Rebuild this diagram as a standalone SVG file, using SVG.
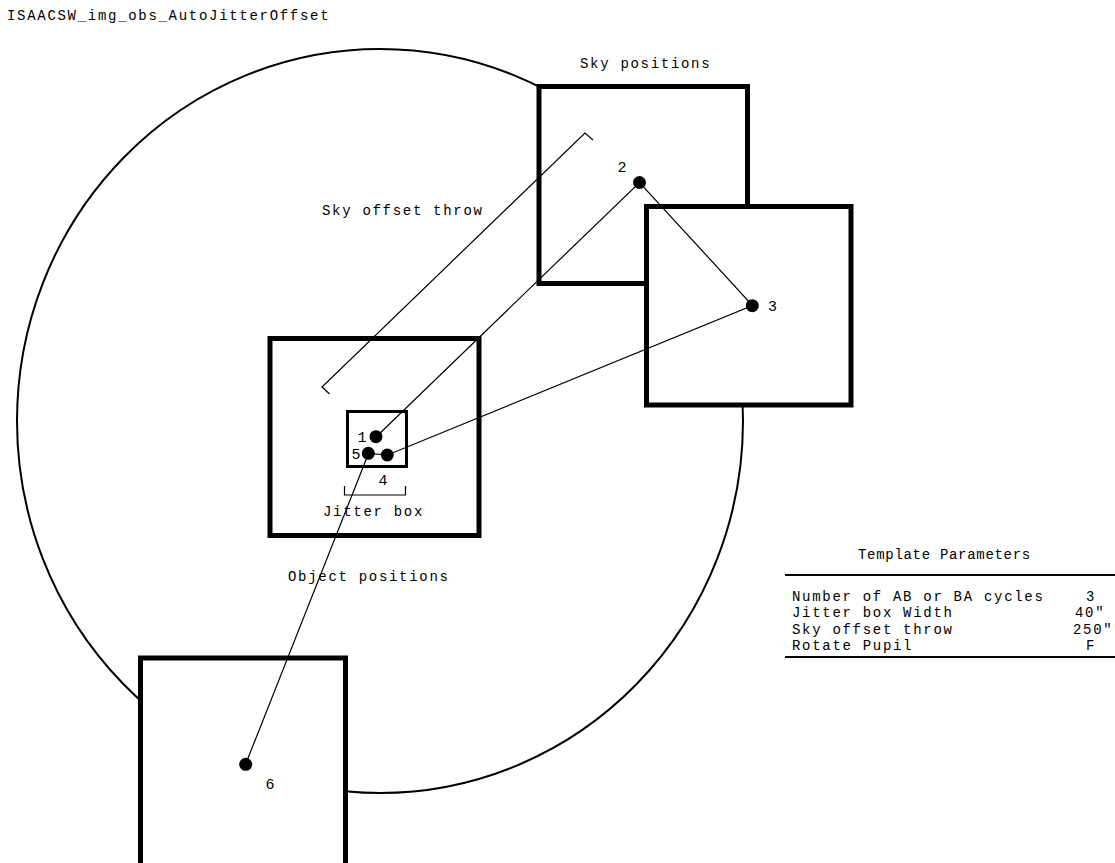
<svg xmlns="http://www.w3.org/2000/svg" width="1115" height="863" viewBox="0 0 1115 863">
<style>
text{font-family:"Liberation Mono","DejaVu Sans Mono",monospace;font-size:14px;letter-spacing:1.7px;fill:#000}
.box{fill:#fff;stroke:#000;stroke-width:5}
.jbox{fill:#fff;stroke:#000;stroke-width:3}
.thin{fill:none;stroke:#000;stroke-width:1.2}
.dot{fill:#000}
.num{font-size:15px;letter-spacing:0}
.mid{text-anchor:middle}
.ttl{letter-spacing:0.7px}
</style>
<rect width="1115" height="863" fill="#fff"/>
<text x="7" y="20">ISAACSW_img_obs_AutoJitterOffset</text>
<g id="field">
<ellipse cx="380" cy="421" rx="363" ry="372" fill="none" stroke="#000" stroke-width="2"/>
</g>
<g id="sky1"><rect class="box" x="539" y="86.5" width="208.5" height="197"/></g>
<g id="sky2"><rect class="box" x="646.5" y="206.5" width="204.5" height="198.5"/></g>
<g id="object"><rect class="box" x="270" y="338.5" width="209" height="197"/></g>
<g id="jitter"><rect class="jbox" x="347.5" y="411.5" width="59" height="55"/></g>
<g id="sky3"><rect class="box" x="140.5" y="658" width="205" height="210"/></g>
<g id="connectors">
<polyline class="thin" points="376,437 639.5,182.5 752.5,305.5 387.5,455 368.5,453.5 245.5,764.5"/>
<polyline class="thin" points="329.5,394 322,387 585,133 593,140"/>
<polyline class="thin" points="344.5,486 344.5,495 405.5,495 405.5,486"/>
</g>
<g id="points">
<circle class="dot" cx="376" cy="436.7" r="6.5"/>
<circle class="dot" cx="639.5" cy="182.5" r="6.5"/>
<circle class="dot" cx="752.3" cy="305.7" r="6.5"/>
<circle class="dot" cx="387.3" cy="455" r="6.5"/>
<circle class="dot" cx="368.3" cy="453.3" r="6.5"/>
<circle class="dot" cx="245.7" cy="764.3" r="6.5"/>
<text class="mid num" x="362" y="442">1</text>
<text class="mid num" x="622" y="172">2</text>
<text class="mid num" x="772.5" y="311">3</text>
<text class="mid num" x="383" y="485">4</text>
<text class="mid num" x="356" y="459">5</text>
<text class="mid num" x="270" y="789">6</text>
</g>
<g id="labels">
<text x="580" y="68">Sky positions</text>
<text x="322" y="215">Sky offset throw</text>
<text x="323" y="516">Jitter box</text>
<text x="288" y="581">Object positions</text>
</g>
<g id="table">
<text class="ttl" x="858" y="559">Template Parameters</text>
<line x1="785" y1="575" x2="1115" y2="575" stroke="#000" stroke-width="2"/>
<text x="792" y="601">Number of AB or BA cycles</text>
<text x="1086" y="601">3</text>
<text x="792" y="617">Jitter box Width</text>
<text x="1075" y="617">40"</text>
<text x="792" y="634">Sky offset throw</text>
<text x="1073" y="634">250"</text>
<text x="792" y="650">Rotate Pupil</text>
<text x="1086" y="650">F</text>
<line x1="785" y1="657" x2="1115" y2="657" stroke="#000" stroke-width="2"/>
</g>
</svg>
